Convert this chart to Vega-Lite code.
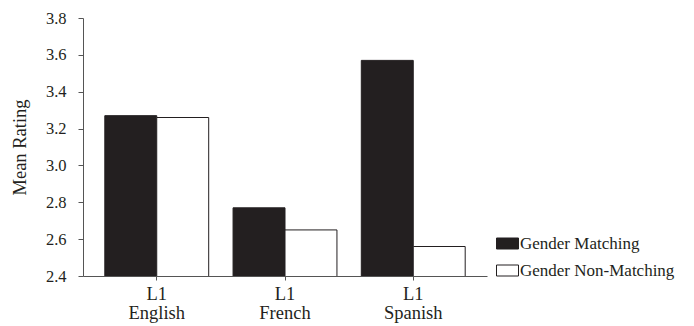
{
  "$schema": "https://vega.github.io/schema/vega-lite/v6.json",
  "width": 404,
  "height": 258,
  "autosize": "none",
  "padding": {"left": 83, "top": 18, "right": 207, "bottom": 50},
  "background": "white",
  "config": {
    "view": {"stroke": null},
    "font": "Liberation Serif"
  },
  "data": {
    "values": [
      {"language": "English", "condition": "Gender Matching", "rating": 3.27},
      {"language": "English", "condition": "Gender Non-Matching", "rating": 3.26},
      {"language": "French", "condition": "Gender Matching", "rating": 2.77},
      {"language": "French", "condition": "Gender Non-Matching", "rating": 2.65},
      {"language": "Spanish", "condition": "Gender Matching", "rating": 3.57},
      {"language": "Spanish", "condition": "Gender Non-Matching", "rating": 2.56}
    ]
  },
  "mark": {"type": "bar", "stroke": "#231f20", "strokeWidth": 1, "clip": true},
  "encoding": {
    "x": {
      "field": "language",
      "type": "nominal",
      "sort": ["English", "French", "Spanish"],
      "scale": {"paddingInner": 0.19, "paddingOuter": 0.17},
      "axis": {
        "title": null,
        "labelAngle": 0,
        "labelExpr": "['L1', datum.value]",
        "labelFont": "Liberation Serif",
        "labelFontSize": 18.5,
        "labelColor": "#231f20",
        "labelLineHeight": 19,
        "labelPadding": 4,
        "domainColor": "#555555",
        "tickColor": "#555555",
        "tickSize": 4,
        "tickBand": "center"
      }
    },
    "xOffset": {
      "field": "condition",
      "type": "nominal",
      "sort": ["Gender Matching", "Gender Non-Matching"],
      "scale": {"paddingInner": 0, "paddingOuter": 0}
    },
    "y": {
      "field": "rating",
      "type": "quantitative",
      "scale": {"domain": [2.4, 3.8], "nice": false, "zero": false},
      "axis": {
        "title": "Mean Rating",
        "titleFont": "Liberation Serif",
        "titleFontSize": 18.5,
        "titleFontWeight": "normal",
        "titleColor": "#231f20",
        "titlePadding": 16,
        "values": [2.4, 2.6, 2.8, 3.0, 3.2, 3.4, 3.6, 3.8],
        "format": ".1f",
        "labelFont": "Liberation Serif",
        "labelFontSize": 16.5,
        "labelColor": "#231f20",
        "labelPadding": 12,
        "grid": false,
        "domainColor": "#555555",
        "tickColor": "#555555",
        "tickSize": 5
      }
    },
    "fill": {
      "field": "condition",
      "type": "nominal",
      "sort": ["Gender Matching", "Gender Non-Matching"],
      "scale": {"range": ["#231f20", "#ffffff"]},
      "legend": {
        "title": null,
        "orient": "none",
        "legendX": 413,
        "legendY": 214,
        "symbolType": "M-1,-0.5L1,-0.5L1,0.5L-1,0.5Z",
        "symbolSize": 484,
        "symbolStrokeColor": "#231f20",
        "symbolStrokeWidth": 1,
        "symbolOpacity": 1,
        "labelFont": "Liberation Serif",
        "labelFontSize": 17,
        "labelColor": "#231f20",
        "labelOffset": 1,
        "rowPadding": 7
      }
    }
  }
}
